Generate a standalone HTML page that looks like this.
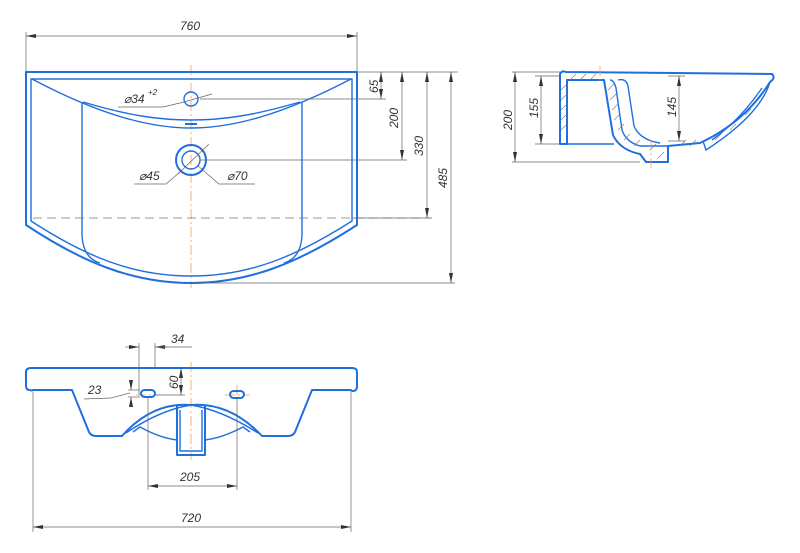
<!DOCTYPE html>
<html><head><style>
html,body{margin:0;padding:0;background:#fff;}
svg{display:block;}
text{font-family:"Liberation Sans",sans-serif;font-style:italic;font-size:12px;fill:#333;}
.b{fill:none;stroke:#1f6fe0;stroke-width:2;stroke-linejoin:round;}
.b1{fill:none;stroke:#1f6fe0;stroke-width:1.4;}
.d{fill:none;stroke:#666;stroke-width:0.7;}
.c{fill:none;stroke:#f0a050;stroke-width:0.8;stroke-dasharray:10 3 2 3;}
.h{fill:none;stroke:#777;stroke-width:0.6;}
</style></head><body>
<svg width="800" height="553" viewBox="0 0 800 553" xmlns="http://www.w3.org/2000/svg">
<defs>
<marker id="a" viewBox="0 0 10 4" refX="10" refY="2" markerWidth="10" markerHeight="4" orient="auto-start-reverse" markerUnits="userSpaceOnUse"><path d="M0,0 L10,2 L0,4z" fill="#333"/></marker>
</defs>

<!-- ===== TOP VIEW ===== -->
<line class="c" x1="191" y1="65" x2="191" y2="288"/>
<path class="b" d="M26,72 H357 V225 C300,262 250,283 191,283 C132,283 82,262 26,225 Z"/>
<path class="b1" d="M31,79 H352 V221 C297,256 250,276 191,276 C132,276 85,256 31,221 Z"/>
<path class="b1" d="M32,79 C100,115 150,128 191,128 C232,128 282,115 351,79"/>
<path class="b1" d="M83,102 C130,116 160,120 191,120 C222,120 252,116 300,102"/>
<path class="b1" d="M82,102 V235 Q83,258 100,263"/>
<path class="b1" d="M302,102 V235 Q301,258 284,263"/>
<line x1="185" y1="124" x2="197" y2="124" stroke="#1f6fe0" stroke-width="2"/>
<circle class="b1" cx="191" cy="99" r="7"/>
<circle class="b" cx="191" cy="160" r="15"/>
<circle class="b1" cx="191" cy="160" r="9"/>
<line x1="33" y1="218" x2="430" y2="218" stroke="#777" stroke-width="0.8" stroke-dasharray="9 5"/>
<!-- 760 -->
<line class="d" x1="26" y1="32" x2="26" y2="72"/>
<line class="d" x1="357" y1="32" x2="357" y2="72"/>
<line class="d" x1="26" y1="36" x2="357" y2="36" marker-start="url(#a)" marker-end="url(#a)"/>
<text x="180" y="30">760</text>
<!-- right dims -->
<line class="d" x1="357" y1="72" x2="458" y2="72"/>
<line class="d" x1="200" y1="99" x2="386" y2="99"/>
<line class="d" x1="200" y1="160" x2="407" y2="160"/>
<line class="d" x1="352" y1="218" x2="432" y2="218"/>
<line class="d" x1="191" y1="283" x2="455" y2="283"/>
<line class="d" x1="381" y1="72" x2="381" y2="99" marker-start="url(#a)" marker-end="url(#a)"/>
<line class="d" x1="402" y1="72" x2="402" y2="160" marker-start="url(#a)" marker-end="url(#a)"/>
<line class="d" x1="427" y1="72" x2="427" y2="218" marker-start="url(#a)" marker-end="url(#a)"/>
<line class="d" x1="451" y1="72" x2="451" y2="283" marker-start="url(#a)" marker-end="url(#a)"/>
<text transform="translate(378,93) rotate(-90)">65</text>
<text transform="translate(398,128) rotate(-90)">200</text>
<text transform="translate(423,156) rotate(-90)">330</text>
<text transform="translate(447,188) rotate(-90)">485</text>
<!-- phi labels -->
<polyline class="d" points="118,107 163,107 184,102"/>
<line class="d" x1="184" y1="102" x2="212" y2="94"/>
<text x="124" y="103">⌀34</text><text x="148" y="95" style="font-size:8px">+2</text>
<polyline class="d" points="134,184 166,184 180,172"/>
<line class="d" x1="178" y1="174" x2="209" y2="144"/>
<text x="139" y="180">⌀45</text>
<polyline class="d" points="255,184 219,184 197,165"/>
<text x="227" y="180">⌀70</text>

<!-- ===== SIDE VIEW ===== -->
<line class="d" x1="512" y1="72" x2="560" y2="72"/>
<line class="d" x1="512" y1="162" x2="640" y2="162"/>
<line class="d" x1="515" y1="72" x2="515" y2="162" marker-start="url(#a)" marker-end="url(#a)"/>
<text transform="translate(512,130) rotate(-90)">200</text>
<line class="d" x1="535" y1="76" x2="560" y2="76"/>
<line class="d" x1="535" y1="144" x2="560" y2="144"/>
<line class="d" x1="541" y1="76" x2="541" y2="144" marker-start="url(#a)" marker-end="url(#a)"/>
<text transform="translate(538,118) rotate(-90)">155</text>
<path class="b" d="M560,74 Q562,70 566,72 L772,74 Q776,78 770,82 Q745,122 700,143 L668,146 V162 H646 L640,154 Q620,150 613,135 L604,80 L567,80 V144 H560 Z"/>
<path class="b1" d="M567,80 H604 M567,144 H614"/>
<path class="b1" d="M610,80 Q614,80 616,88 L622,130 Q626,142 640,146 L668,146"/>
<path class="b1" d="M618,80 Q626,78 628,86 L634,126 Q640,140 660,143"/>
<path class="b1" d="M770,82 Q760,115 706,150 L703,141"/>
<path class="b1" d="M762,88 Q740,120 712,140"/>
<g class="h">
<path d="M561,90 l6,-6 M561,100 l6,-6 M561,110 l6,-6 M561,120 l6,-6 M561,130 l6,-6 M570,80 l6,-6 M580,80 l6,-6 M590,80 l6,-6 M608,90 l6,-6 M610,100 l6,-6 M612,110 l6,-6 M614,120 l6,-6 M618,130 l6,-6 M624,140 l6,-6 M634,146 l6,-6 M650,150 l6,-6 M658,158 l6,-6 M680,146 l6,-6 M690,146 l6,-6 M715,140 l6,-6 M730,130 l6,-6 M745,115 l6,-6"/>
</g>
<line class="c" x1="600" y1="66" x2="600" y2="84"/>
<line class="c" x1="651" y1="140" x2="651" y2="168"/>
<line class="d" x1="668" y1="76" x2="685" y2="76"/>
<line class="d" x1="668" y1="141" x2="685" y2="141"/>
<line class="d" x1="679" y1="76" x2="679" y2="141" marker-start="url(#a)" marker-end="url(#a)"/>
<text transform="translate(676,117) rotate(-90)">145</text>

<!-- ===== FRONT VIEW ===== -->
<line class="c" x1="191" y1="362" x2="191" y2="460"/>
<line class="c" x1="237" y1="385" x2="237" y2="402"/>
<line class="c" x1="136" y1="395" x2="160" y2="395"/>
<line class="c" x1="225" y1="395" x2="250" y2="395"/>
<path class="b" d="M30,390 Q26,390 26,386 V372 Q26,368 31,368 H352 Q357,368 357,372 V386 Q357,391 353,391 Q351,391 351,390 H312 L295,432 Q293,436 288,436 H262 Q230,402 191,405 Q152,402 122,436 H96 Q91,436 89,432 L72,390 H33 Q32,391 30,390 Z"/>
<path class="b1" d="M126,433 Q160,410 191,405 Q222,410 258,433"/>
<path class="b1" d="M133,432 L140,427 Q160,438 177,440 M250,432 L243,427 Q222,438 205,440"/>
<path class="b" d="M177,406 V455 H205 V406"/>
<path class="b1" d="M180,410 V451 H202 V410"/>
<rect class="b" x="141" y="390" width="14" height="7" rx="3.5"/>
<rect class="b" x="230" y="391" width="14" height="7" rx="3.5"/>
<!-- 34 -->
<line class="d" x1="139" y1="343" x2="139" y2="395"/>
<line class="d" x1="155" y1="343" x2="155" y2="368"/>
<line class="d" x1="125" y1="347" x2="139" y2="347" marker-end="url(#a)"/>
<line class="d" x1="169" y1="347" x2="155" y2="347" marker-end="url(#a)"/>
<line class="d" x1="155" y1="347" x2="192" y2="347"/>
<text x="171" y="343">34</text>
<!-- 60 -->
<line class="d" x1="155" y1="395" x2="185" y2="395"/>
<line class="d" x1="181" y1="368" x2="181" y2="395" marker-start="url(#a)" marker-end="url(#a)"/>
<text transform="translate(178,389) rotate(-90)">60</text>
<!-- 23 -->
<line class="d" x1="128" y1="390" x2="140" y2="390"/>
<line class="d" x1="128" y1="397" x2="140" y2="397"/>
<line class="d" x1="131" y1="383" x2="131" y2="390" marker-end="url(#a)"/>
<line class="d" x1="131" y1="404" x2="131" y2="397" marker-end="url(#a)"/>
<polyline class="d" points="84,399 111,398 130,393"/>
<text x="88" y="394">23</text>
<!-- 205 -->
<line class="d" x1="148" y1="398" x2="148" y2="490"/>
<line class="d" x1="237" y1="398" x2="237" y2="490"/>
<line class="d" x1="148" y1="486" x2="237" y2="486" marker-start="url(#a)" marker-end="url(#a)"/>
<text x="180" y="481">205</text>
<!-- 720 -->
<line class="d" x1="33" y1="392" x2="33" y2="532"/>
<line class="d" x1="351" y1="392" x2="351" y2="532"/>
<line class="d" x1="33" y1="527" x2="351" y2="527" marker-start="url(#a)" marker-end="url(#a)"/>
<text x="181" y="522">720</text>
</svg>
</body></html>
